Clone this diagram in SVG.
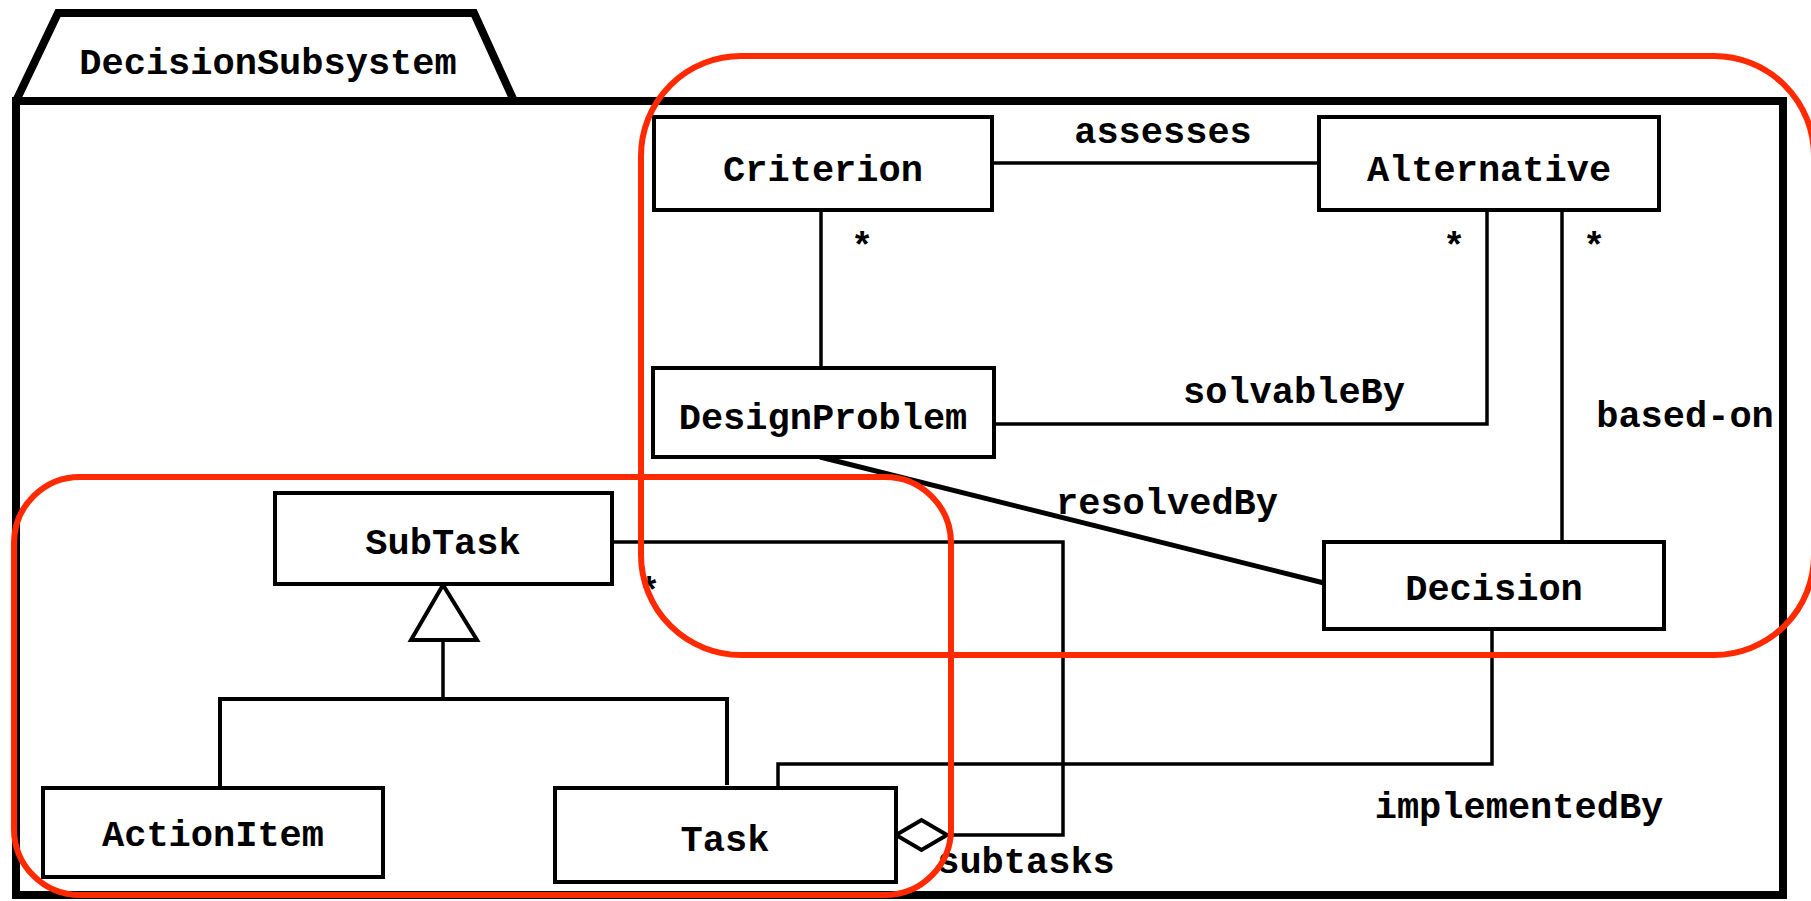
<svg xmlns="http://www.w3.org/2000/svg" width="1811" height="901" viewBox="0 0 1811 901">
<style>
text{font-family:"Liberation Mono","Courier New",monospace;font-weight:bold;font-size:37px;fill:#000;text-anchor:middle}
.box{fill:#fff;stroke:#000;stroke-width:4}
.ln{fill:none;stroke:#000;stroke-width:3.5}
.pkg{fill:none;stroke:#000;stroke-width:8;stroke-linejoin:miter}
.red{fill:none;stroke:#ff2a00;stroke-width:6}
</style>
<rect width="1811" height="901" fill="#fff"/>
<g id="package">
<path class="pkg" d="M16,101 L58,13 L474,13 L514,101"/>
<rect class="pkg" x="16" y="101" width="1767" height="794"/>
<text x="268" y="74">DecisionSubsystem</text>
</g>
<g id="connectors">
<line class="ln" x1="992" y1="163" x2="1319" y2="163"/>
<line class="ln" x1="821" y1="210" x2="821" y2="368"/>
<polyline class="ln" points="994,424 1487,424 1487,210"/>
<line class="ln" x1="1562" y1="210" x2="1562" y2="542"/>
<line class="ln" x1="820" y1="457" x2="1324" y2="583" style="stroke-width:5"/>
<polyline class="ln" points="778,788 778,764 1492,764 1492,630"/>
<polyline class="ln" points="612,542 1063,542 1063,835 947,835"/>
<polygon class="ln" points="896,835 921.5,820 947,835 921.5,850" style="fill:#fff;stroke-width:4"/>
<polygon class="ln" points="443,585 411,640 477,640" style="fill:#fff;stroke-width:4"/>
<line class="ln" x1="443" y1="640" x2="443" y2="699"/>
<polyline class="ln" points="220,788 220,699 727,699 727,785" style="stroke-width:4"/>
<text x="862" y="258">*</text>
<text x="1454" y="258">*</text>
<text x="1594" y="258">*</text>
<text x="649" y="603">*</text>
<text x="1163" y="143">assesses</text>
<text x="1294" y="403">solvableBy</text>
<text x="1685" y="427">based-on</text>
<text x="1167" y="514">resolvedBy</text>
<text x="1519" y="818">implementedBy</text>
<text x="1026" y="873">subtasks</text>
</g>
<g id="Criterion"><rect class="box" x="654" y="117" width="338" height="93"/><text x="823" y="181">Criterion</text></g>
<g id="Alternative"><rect class="box" x="1319" y="117" width="340" height="93"/><text x="1489" y="181">Alternative</text></g>
<g id="DesignProblem"><rect class="box" x="653" y="368" width="341" height="89"/><text x="823" y="429">DesignProblem</text></g>
<g id="Decision"><rect class="box" x="1324" y="542" width="340" height="87"/><text x="1494" y="600">Decision</text></g>
<g id="SubTask"><rect class="box" x="275" y="493" width="337" height="91"/><text x="443" y="554">SubTask</text></g>
<g id="ActionItem"><rect class="box" x="43" y="788" width="340" height="89"/><text x="213" y="846">ActionItem</text></g>
<g id="Task"><rect class="box" x="555" y="788" width="341" height="94"/><text x="725" y="851">Task</text></g>
<g id="groups">
<rect class="red" x="641" y="56" width="1173" height="599" rx="100" ry="100"/>
<rect class="red" x="14" y="477" width="937" height="418" rx="66" ry="66"/>
</g>
</svg>
